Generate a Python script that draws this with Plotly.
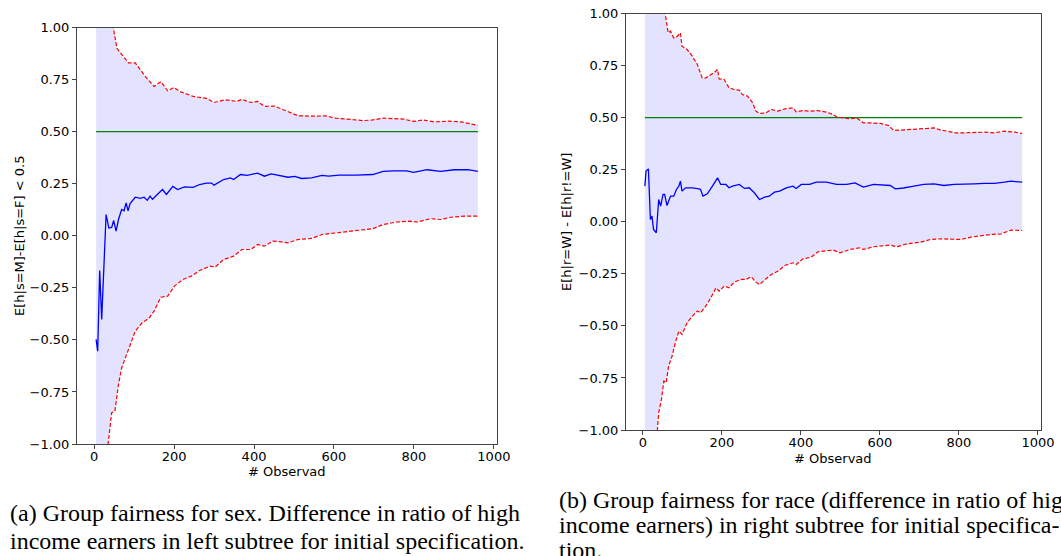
import plotly.graph_objects as go

# ---------------- data ----------------
sex_upper_x = [5, 20, 35, 48, 57, 86, 103, 128, 150, 167, 184, 200, 214, 248, 281, 300, 328, 357, 370, 392,
               409, 426, 451, 485, 510, 553, 578, 604, 638, 672, 697, 723, 774, 799, 824, 850, 884, 918, 960]
sex_upper_y = [3.0, 1.6, 1.2, 1.0, 0.90, 0.83, 0.83, 0.765, 0.717, 0.74, 0.696, 0.712, 0.693, 0.669, 0.66, 0.64,
               0.653, 0.645, 0.655, 0.64, 0.645, 0.621, 0.623, 0.597, 0.576, 0.574, 0.576, 0.565, 0.56, 0.553,
               0.556, 0.565, 0.56, 0.549, 0.556, 0.547, 0.55, 0.547, 0.53]

sex_mean_x = [5, 9, 14, 19, 30, 37, 44, 49, 55, 61, 69, 75, 80, 85, 90, 103, 116, 125, 133, 140,
              146, 158, 171, 181, 197, 209, 226, 248, 264, 281, 294, 300, 324, 341, 349, 366, 383, 409, 426, 443,
              460, 485, 502, 519, 544, 570, 587, 612, 655, 680, 697, 723, 748, 782, 799, 833, 867, 901, 935, 960]
sex_mean_y = [-0.498, -0.554, -0.167, -0.402, 0.102, 0.037, 0.04, 0.073, 0.022, 0.078, 0.126, 0.12, 0.158, 0.12,
              0.155, 0.185, 0.18, 0.185, 0.17, 0.19, 0.175, 0.198, 0.222, 0.198, 0.237, 0.222, 0.235, 0.232,
              0.246, 0.253, 0.253, 0.243, 0.27, 0.278, 0.27, 0.294, 0.29, 0.301, 0.286, 0.297, 0.291, 0.281,
              0.285, 0.275, 0.278, 0.29, 0.286, 0.291, 0.291, 0.294, 0.294, 0.309, 0.312, 0.312, 0.304, 0.317,
              0.309, 0.317, 0.318, 0.309]

sex_lower_x = [5, 20, 35, 44, 52, 61, 69, 78, 90, 103, 120, 137, 150, 167, 184, 201, 222, 243, 264, 290,
               303, 324, 349, 370, 392, 409, 426, 447, 468, 485, 510, 544, 570, 604, 638, 663, 697, 723, 757, 791,
               808, 842, 867, 892, 926, 960]
sex_lower_y = [-4.0, -1.8, -1.0, -0.85, -0.842, -0.714, -0.634, -0.586, -0.522, -0.458, -0.418, -0.397, -0.362,
               -0.295, -0.29, -0.242, -0.21, -0.194, -0.167, -0.146, -0.15, -0.114, -0.098, -0.066, -0.066,
               -0.042, -0.05, -0.026, -0.029, -0.034, -0.018, -0.013, 0.006, 0.014, 0.022, 0.025, 0.034, 0.054,
               0.066, 0.07, 0.066, 0.082, 0.078, 0.089, 0.094, 0.094]

race_upper_x = [5, 20, 40, 57, 64, 70, 78, 87, 95, 99, 112, 125, 138, 150, 159, 172, 180, 189, 193, 206,
                218, 231, 244, 252, 265, 278, 286, 295, 312, 325, 342, 359, 380, 388, 405, 422, 443, 465, 482, 490,
                503, 524, 541, 558, 575, 601, 622, 635, 652, 677, 703, 720, 737, 754, 771, 788, 813, 839, 864, 890,
                915, 941, 960]
race_upper_y = [3.0, 1.7, 1.2, 1.0, 0.907, 0.915, 0.883, 0.89, 0.907, 0.843, 0.827, 0.795, 0.755, 0.691, 0.69,
                0.707, 0.715, 0.731, 0.686, 0.683, 0.643, 0.635, 0.632, 0.611, 0.603, 0.571, 0.531, 0.52, 0.523,
                0.539, 0.531, 0.542, 0.547, 0.528, 0.534, 0.531, 0.534, 0.526, 0.515, 0.504, 0.499, 0.494, 0.499,
                0.475, 0.475, 0.472, 0.462, 0.438, 0.44, 0.443, 0.443, 0.448, 0.451, 0.44, 0.435, 0.427, 0.427,
                0.43, 0.43, 0.427, 0.435, 0.43, 0.424]

race_mean_x = [5, 8, 14, 19, 23, 27, 34, 40, 45, 51, 55, 61, 70, 78, 85, 91, 95, 99, 108, 125,
               142, 146, 152, 163, 176, 189, 197, 210, 218, 227, 244, 257, 269, 282, 295, 308, 320, 333, 346, 363,
               380, 388, 401, 422, 439, 465, 490, 516, 537, 558, 584, 609, 626, 639, 660, 686, 711, 737, 762, 788,
               813, 839, 864, 890, 915, 932, 960]
race_mean_y = [0.171, 0.243, 0.254, 0.011, 0.027, -0.037, -0.053, 0.107, 0.075, 0.131, 0.131, 0.078, 0.123,
               0.123, 0.155, 0.171, 0.195, 0.147, 0.163, 0.163, 0.158, 0.155, 0.123, 0.134, 0.171, 0.211, 0.179,
               0.179, 0.163, 0.171, 0.179, 0.16, 0.163, 0.139, 0.107, 0.118, 0.123, 0.142, 0.147, 0.163, 0.171,
               0.16, 0.179, 0.179, 0.19, 0.19, 0.179, 0.179, 0.187, 0.166, 0.179, 0.174, 0.174, 0.158, 0.162,
               0.171, 0.179, 0.182, 0.174, 0.179, 0.179, 0.182, 0.184, 0.184, 0.19, 0.195, 0.19]

race_lower_x = [5, 20, 37, 40, 47, 53, 59, 65, 74, 82, 91, 99, 112, 125, 138, 146, 159, 172, 185, 193,
                206, 218, 231, 248, 261, 274, 286, 295, 308, 325, 342, 359, 380, 388, 405, 426, 443, 465, 482, 499,
                524, 550, 558, 584, 609, 626, 643, 669, 703, 728, 754, 779, 805, 830, 856, 881, 907, 932, 960]
race_lower_y = [-4.0, -1.8, -0.989, -0.917, -0.853, -0.765, -0.773, -0.693, -0.645, -0.581, -0.525, -0.541,
                -0.485, -0.453, -0.429, -0.437, -0.405, -0.365, -0.317, -0.333, -0.309, -0.317, -0.29, -0.277,
                -0.277, -0.264, -0.29, -0.301, -0.28, -0.253, -0.237, -0.21, -0.197, -0.205, -0.178, -0.17,
                -0.144, -0.141, -0.136, -0.149, -0.133, -0.125, -0.133, -0.12, -0.114, -0.112, -0.12, -0.106,
                -0.098, -0.085, -0.082, -0.085, -0.085, -0.074, -0.066, -0.061, -0.058, -0.04, -0.042]

threshold_x = [5, 960]
threshold_y = [0.5, 0.5]

x_ticks = [0, 200, 400, 600, 800, 1000]
y_ticks = [-1.0, -0.75, -0.5, -0.25, 0.0, 0.25, 0.5, 0.75, 1.0]

y_titles = ["E[h|s=M]-E[h|s=F] < 0.5", "E[h|r=W] - E[h|r!=W]"]
x_title = "# Observad"
caption_a = ["(a) Group fairness for sex. Difference in ratio of high",
             "income earners in left subtree for initial specification."]
caption_b = ["(b) Group fairness for race (difference in ratio of high",
             "income earners) in right subtree for initial specifica-",
             "tion."]

# ---------------- figure ----------------
W, H = 1061, 556
fig = go.Figure()

panels = [
    dict(ux=sex_upper_x, uy=sex_upper_y, mx=sex_mean_x, my=sex_mean_y, lx=sex_lower_x, ly=sex_lower_y,
         xa="x", ya="y"),
    dict(ux=race_upper_x, uy=race_upper_y, mx=race_mean_x, my=race_mean_y, lx=race_lower_x, ly=race_lower_y,
         xa="x2", ya="y2"),
]

for p in panels:
    # shaded band between upper and lower bounds
    fig.add_trace(go.Scatter(
        x=p["ux"] + p["lx"][::-1], y=p["uy"] + p["ly"][::-1],
        fill="toself", fillcolor="rgba(0,0,255,0.11)", line=dict(width=0),
        mode="lines", hoverinfo="skip", showlegend=False, xaxis=p["xa"], yaxis=p["ya"]))
    fig.add_trace(go.Scatter(x=threshold_x, y=threshold_y, mode="lines",
                             line=dict(color="#008000", width=1.3),
                             showlegend=False, xaxis=p["xa"], yaxis=p["ya"]))
    fig.add_trace(go.Scatter(x=p["mx"], y=p["my"], mode="lines",
                             line=dict(color="#0000ff", width=1.3),
                             showlegend=False, xaxis=p["xa"], yaxis=p["ya"]))
    for xs, ys in ((p["ux"], p["uy"]), (p["lx"], p["ly"])):
        fig.add_trace(go.Scatter(x=xs, y=ys, mode="lines",
                                 line=dict(color="#ff0000", width=1.2, dash="4px,2px"),
                                 showlegend=False, xaxis=p["xa"], yaxis=p["ya"]))

tickfont = dict(family="DejaVu Sans", size=13, color="#000")
axis_common = dict(showgrid=False, zeroline=False, showline=True, linecolor="#444", linewidth=1,
                   ticks="outside", ticklen=4, tickwidth=1, tickcolor="#444", tickfont=tickfont,
                   automargin=False)

left_px = (77, 497, 27.5, 444)
right_px = (626, 1041, 13.5, 430)

def dom(px):
    x0, x1, yt, yb = px
    return [x0 / W, x1 / W], [1 - yb / H, 1 - yt / H]

lx_dom, ly_dom = dom(left_px)
rx_dom, ry_dom = dom(right_px)

fig.update_layout(
    width=W, height=H, margin=dict(l=0, r=0, t=0, b=0, autoexpand=False),
    paper_bgcolor="white", plot_bgcolor="white",
    xaxis=dict(domain=lx_dom, range=[-42.75, 1007.75], tickvals=x_ticks, anchor="y", mirror=True,
               ticklabelstandoff=-4, **axis_common),
    yaxis=dict(domain=ly_dom, range=[-1, 1], tickvals=y_ticks, tickformat=".2f", anchor="x", mirror=True,
               **axis_common),
    xaxis2=dict(domain=rx_dom, range=[-42.75, 1007.75], tickvals=x_ticks, anchor="y2", mirror=True,
                ticklabelstandoff=-4, **axis_common),
    yaxis2=dict(domain=ry_dom, range=[-1, 1], tickvals=y_ticks, tickformat=".2f", anchor="x2", mirror=True,
                **axis_common),
)

ann_font = dict(family="DejaVu Sans", size=13, color="#000")
annotations = [
    dict(text=y_titles[0], x=19 / W, y=1 - 236 / H, textangle=-90, font=ann_font),
    dict(text=y_titles[1], x=567 / W, y=1 - 222 / H, textangle=-90, font=ann_font),
    dict(text=x_title, x=287 / W, y=1 - 471 / H, font=ann_font),
    dict(text=x_title, x=833 / W, y=1 - 458 / H, font=ann_font),
]
cap_font = dict(family="Liberation Serif", size=24, color="#000")
for line, py in zip(caption_a, [513, 541]):
    annotations.append(dict(text=line, x=8 / W, y=1 - py / H, xanchor="left", font=cap_font))
for line, py in zip(caption_b, [500, 525, 550]):
    annotations.append(dict(text=line, x=557 / W, y=1 - py / H, xanchor="left", font=cap_font))

for a in annotations:
    a.update(xref="paper", yref="paper", showarrow=False)
    a.setdefault("xanchor", "center")
    a.setdefault("yanchor", "middle")
fig.update_layout(annotations=annotations)

fig.write_html("out.html")
